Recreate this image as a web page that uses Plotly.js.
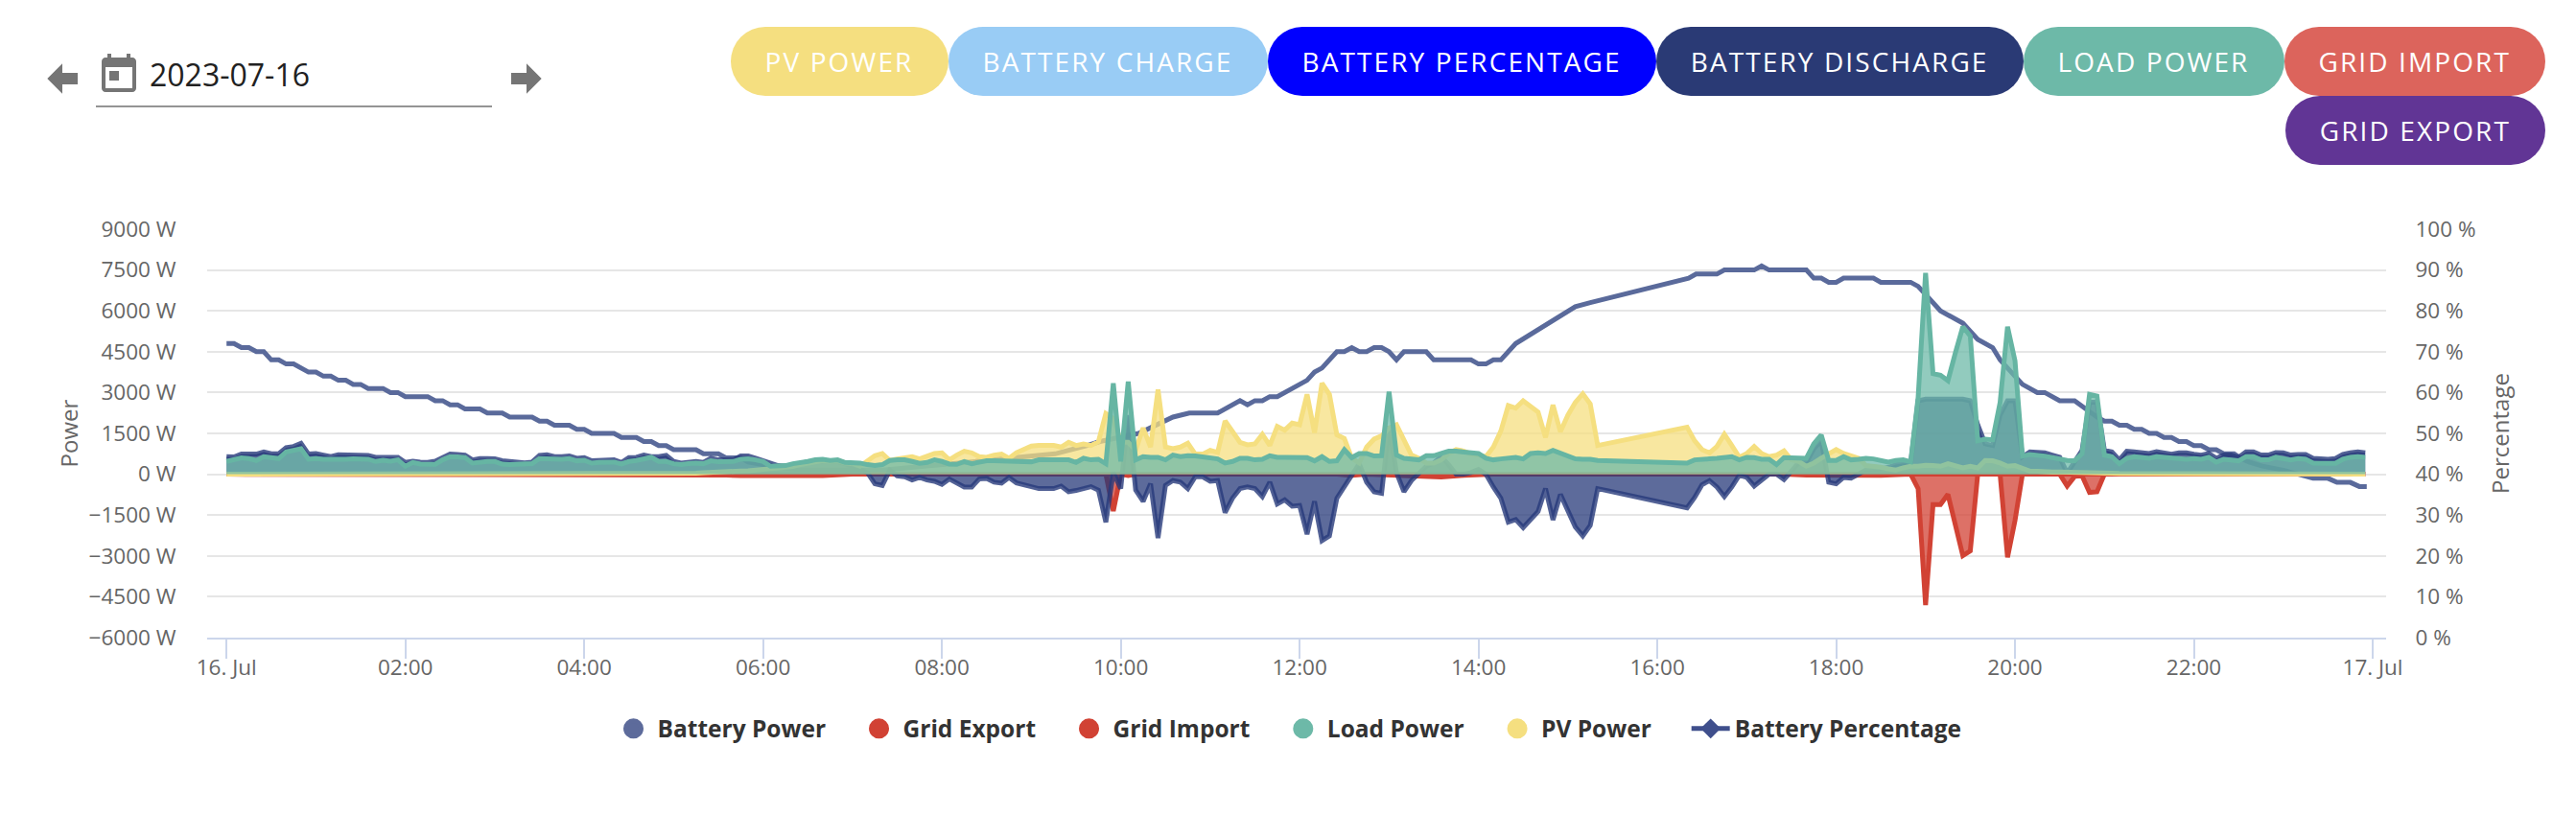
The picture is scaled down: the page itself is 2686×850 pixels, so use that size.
<!DOCTYPE html>
<html>
<head>
<meta charset="utf-8">
<title>Solar day view</title>
<script src="https://cdn.plot.ly/plotly-3.0.1.min.js"></script>
<style>
  html, body { margin: 0; padding: 0; background: #fff; font-family: "Open Sans", sans-serif; overflow: hidden; }
  #plot { position: absolute; left: 0; top: 0; width: 2686px; height: 850px; }
  .icon { position: absolute; width: 48px; height: 48px; fill: #757575; }
  #date { position: absolute; left: 156px; top: 56px; font-size: 32px; line-height: 44px; color: #212121; }
  #dateline { position: absolute; left: 100px; top: 110px; width: 413px; height: 2px; background: #949494; }
  #toggles { position: absolute; left: 700px; right: 32px; top: 28px; display: flex; flex-wrap: wrap; justify-content: flex-end; }
  .toggle { height: 72px; line-height: 72px; padding: 0 36px; border-radius: 36px; color: #fff; font-size: 28px; letter-spacing: 2.1px; white-space: nowrap; }
</style>
</head>
<body>
<div id="plot"></div>
<svg class="icon" style="left:41px;top:58px" viewBox="0 0 24 24"><path d="M20,9V15H12V19.84L4.16,12L12,4.16V9H20Z"/></svg>
<svg class="icon" style="left:100px;top:54px" viewBox="0 0 24 24"><path d="M19 3h-1V1h-2v2H8V1H6v2H5c-1.1 0-2 .9-2 2v14c0 1.1.9 2 2 2h14c1.1 0 2-.9 2-2V5c0-1.1-.9-2-2-2zm0 16H5V8h14v11zM7 10h5v5H7z"/></svg>
<div id="date">2023-07-16</div>
<div id="dateline"></div>
<svg class="icon" style="left:525px;top:58px" viewBox="0 0 24 24"><path d="M4,15V9H12V4.16L19.84,12L12,19.84V15H4Z"/></svg>
<div id="toggles"></div>
<script>
// toggle buttons above the chart
const toggleNames = ["PV POWER", "BATTERY CHARGE", "BATTERY PERCENTAGE", "BATTERY DISCHARGE", "LOAD POWER", "GRID IMPORT", "GRID EXPORT"];
const toggleColors = ["#f5df80", "#99ccf5", "#0000ff", "#2a3a75", "#6db9a8", "#dc645c", "#613595"];

// x axis ticks, in minutes from midnight
const tickMinutes = [0, 120, 240, 360, 480, 600, 720, 840, 960, 1080, 1200, 1320, 1440];
const tickLabels = ["16. Jul", "02:00", "04:00", "06:00", "08:00", "10:00", "12:00", "14:00", "16:00", "18:00", "20:00", "22:00", "17. Jul"];

// inverter logs every 5 minutes, the logger was offline between 15:20 and 16:20
const powerMinutes = [];
for (let m = 0; m < 1440; m += 5) {
  if (m <= 920 || m >= 980) powerMinutes.push(m);
}

// one row per hour, row H15 and H16 are short because of the gap
const batteryPower = [
  645, 633, 739, 727, 739, 821, 751, 751, 974, 1020, 1138, 739,
  762, 704, 645, 716, 716, 727, 692, 692, 622, 622, 622, 622,
  434, 481, 446, 434, 481, 622, 739, 727, 704, 528, 575, 575,
  563, 500, 469, 434, 422, 446, 692, 716, 645, 645, 669, 587,
  610, 493, 516, 528, 528, 434, 610, 622, 704, 645, 645, 692,
  469, 411, 446, 469, 434, 587, 528, 528, 528, 669, 669, 587,
  504, 375, 317, 293, 352, 387, 457, 469, 493, 469, 469, 387,
  293, 176, 59, -352, -411, 150, -59, -94, -211, -117, -211, -258,
  -375, -176, -317, -469, -469, -176, -152, -293, -328, -117, -317, -387,
  -481, -528, -528, -528, -434, -645, -598, -528, -457, -586, -1760, 59,
  -528, 2170, -586, -997, -352, -2346, -410, -234, -293, -528, -94, -94,
  -258, -234, -1408, -880, -528, -469, -528, -821, -293, -1090, -938, -1173,
  -1150, -2205, -997, -2440, -2264, -880, -469, 0, 387, -293, -645, -704,
  1760, 59, -645, -234, 59, 293, 411, 645, 352, 0, 0, 59,
  176, 0, -469, -880, -1760, -1666, -1959, -1642, -1372, -528, -1677, -739,
  -1349, -1935, -2264, -1877, -528,
  -1232, -856, -387, -235, -469, -821, -469, -35,
  -117, -434, -235, 0, 0, -199, 117, 434, 434, 938, 1232, -293,
  -352, -117, -141, 0, 150, 150, 200, 250, 352, 400, 400, 2698,
  2757, 2757, 2757, 2757, 2757, 2757, 2698, 1818, 1114, 1056, 2170, 2698,
  2698, 645, 821, 821, 786, 704, 622, 35, 469, 880, 2640, 2640,
  880, 821, 528, 845, 821, 786, 762, 833, 786, 739, 786, 786,
  739, 704, 762, 586, 704, 704, 622, 821, 821, 704, 704, 798,
  786, 704, 727, 727, 586, 551, 551, 575, 727, 786, 821, 786
];

const loadPower = [
  469, 528, 598, 575, 504, 645, 622, 575, 821, 880, 938, 551,
  575, 551, 540, 551, 551, 563, 540, 551, 469, 516, 481, 528,
  293, 434, 375, 352, 364, 528, 645, 633, 610, 410, 457, 469,
  469, 370, 352, 375, 387, 387, 575, 563, 551, 551, 575, 493,
  516, 410, 434, 446, 446, 375, 469, 504, 575, 622, 469, 469,
  387, 352, 387, 410, 387, 493, 457, 469, 469, 551, 563, 528,
  469, 293, 293, 317, 387, 411, 469, 528, 551, 504, 528, 434,
  434, 411, 352, 317, 352, 504, 528, 528, 469, 399, 434, 528,
  469, 375, 363, 469, 387, 457, 493, 493, 493, 493, 493, 493,
  457, 528, 528, 528, 528, 528, 434, 586, 528, 551, 387, 3343,
  469, 3402, 528, 645, 622, 622, 528, 704, 645, 680, 669, 645,
  586, 563, 411, 469, 586, 586, 528, 551, 680, 622, 622, 622,
  622, 610, 493, 645, 469, 493, 903, 610, 762, 762, 669, 680,
  3026, 704, 586, 563, 528, 680, 680, 762, 845, 845, 821, 762,
  762, 586, 528, 563, 586, 622, 563, 762, 786, 762, 880, 762,
  645, 563, 551, 551, 504,
  411, 528, 563, 563, 586, 622, 645, 528,
  622, 610, 551, 551, 352, 610, 598, 598, 586, 1114, 1443, 504,
  504, 645, 528, 551, 586, 563, 504, 446, 504, 528, 457, 2815,
  7390, 3695, 3636, 3437, 4457, 5419, 5079, 1232, 1290, 1267, 2640, 5419,
  4164, 669, 727, 704, 669, 610, 551, 504, 493, 762, 2933, 2874,
  704, 645, 387, 586, 645, 610, 586, 645, 622, 575, 551, 551,
  575, 551, 622, 446, 551, 528, 493, 645, 645, 528, 528, 622,
  586, 528, 575, 551, 411, 387, 399, 399, 551, 622, 645, 622
];

const pvPower = [
  0, 0, 0, 0, 0, 0, 0, 0, 0, 0, 0, 0,
  0, 0, 0, 0, 0, 0, 0, 0, 0, 0, 0, 0,
  0, 0, 0, 0, 0, 0, 0, 0, 0, 0, 0, 0,
  0, 0, 0, 0, 0, 0, 0, 0, 0, 0, 0, 0,
  0, 0, 0, 0, 0, 0, 0, 0, 0, 0, 0, 0,
  20, 20, 30, 40, 60, 80, 100, 100, 120, 120, 130, 150,
  160, 176, 200, 220, 280, 350, 400, 450, 500, 480, 500, 420,
  400, 293, 469, 680, 762, 504, 563, 586, 645, 563, 645, 762,
  786, 528, 704, 845, 786, 645, 622, 704, 739, 586, 786, 903,
  1032, 1056, 1056, 1056, 997, 1173, 1056, 1114, 1056, 1196, 2229, 2053,
  1173, 1173, 880, 1700, 997, 3108, 997, 938, 997, 1138, 739, 739,
  880, 798, 1959, 1525, 1173, 1079, 1114, 1466, 1056, 1760, 1619, 1877,
  1818, 2933, 1525, 3343, 2933, 1443, 1314, 587, 411, 997, 1290, 1408,
  1700, 1818, 1290, 704, 587, 411, 411, 528, 762, 903, 856, 739,
  704, 645, 997, 1584, 2522, 2428, 2698, 2498, 2287, 1349, 2545, 1560,
  2170, 2640, 2956, 2580, 1056,
  1724, 1232, 903, 786, 1020, 1466, 1056, 622,
  762, 1020, 762, 645, 704, 856, 528, 469, 293, 410, 587, 762,
  903, 762, 669, 587, 317, 293, 258, 199, 152, 235, 293, 293,
  328, 317, 293, 387, 317, 235, 293, 235, 504, 493, 410, 293,
  317, 199, 117, 105, 82, 82, 82, 82, 82, 59, 59, 59,
  40, 40, 30, 30, 20, 20, 0, 0, 0, 0, 0, 0,
  0, 0, 0, 0, 0, 0, 0, 0, 0, 0, 0, 0,
  0, 0, 0, 0, 0, 0, 0, 0, 0, 0, 0, 0
];

// grid only moves now and then so these keep their own times
const gridImportMinutes = [0, 10, 15, 20, 25, 30, 35, 100, 105, 110, 150, 155, 160, 170, 175, 180, 275, 280, 285, 290, 295, 300, 305, 335, 345, 360, 385, 400, 420, 590, 595, 600, 605, 610, 745, 755, 765, 800, 815, 830, 850, 1045, 1060, 1110, 1130, 1135, 1140, 1145, 1150, 1155, 1160, 1165, 1170, 1175, 1190, 1195, 1200, 1205, 1230, 1235, 1240, 1245, 1250, 1255, 1260, 1275, 1280, 1285, 1340, 1345, 1350, 1435];
const gridImport = [0, 0, -30, 0, 0, -30, 0, 0, -30, 0, 0, -30, 0, 0, -30, 0, 0, -40, 0, -40, 0, -40, 0, -30, -50, -50, -60, -50, 0, 0, -1349, 0, -50, 0, 0, -40, 0, -40, -100, -40, 0, 0, -30, -40, 0, -528, -4809, -1114, -1114, -739, -1818, -2991, -2815, 0, 0, -3050, -1700, 0, 0, -434, -80, -60, -669, -645, 0, 0, -30, 0, 0, -30, 0, 0];
const gridExportMinutes = [0, 1435];
const gridExport = [0, 0];

// state of charge, the inverter reports whole percents
const percentMinutes = [0, 5, 10, 15, 20, 25, 30, 35, 40, 45, 55, 60, 65, 70, 75, 80, 85, 90, 95, 105, 110, 115, 120, 135, 140, 145, 150, 155, 160, 170, 175, 185, 190, 205, 210, 215, 220, 230, 235, 240, 245, 260, 265, 275, 280, 285, 290, 295, 300, 315, 320, 330, 335, 345, 350, 365, 385, 440, 470, 500, 525, 556, 577, 586, 612, 618, 629, 635, 646, 665, 680, 685, 690, 695, 700, 705, 725, 730, 735, 745, 750, 755, 760, 765, 770, 775, 780, 785, 790, 805, 810, 835, 840, 845, 850, 855, 865, 905, 915, 981, 986, 1000, 1005, 1025, 1030, 1035, 1060, 1065, 1070, 1075, 1080, 1085, 1105, 1110, 1130, 1135, 1140, 1145, 1150, 1165, 1175, 1185, 1190, 1200, 1205, 1215, 1220, 1230, 1240, 1255, 1260, 1265, 1270, 1275, 1280, 1285, 1290, 1295, 1300, 1305, 1310, 1315, 1320, 1325, 1330, 1335, 1340, 1347, 1351, 1357, 1366, 1380, 1390, 1400, 1410, 1416, 1425, 1431, 1436];
const batteryPercentage = [72, 72, 71, 71, 70, 70, 68, 68, 67, 67, 65, 65, 64, 64, 63, 63, 62, 62, 61, 61, 60, 60, 59, 59, 58, 58, 57, 57, 56, 56, 55, 55, 54, 54, 53, 53, 52, 52, 51, 51, 50, 50, 49, 49, 48, 48, 47, 47, 46, 46, 45, 45, 44, 44, 43, 42, 41, 41, 42, 43, 44, 45, 47, 48, 50, 51, 53, 54, 55, 55, 58, 57, 58, 58, 59, 59, 63, 65, 66, 70, 70, 71, 70, 70, 71, 71, 70, 68, 70, 70, 68, 68, 67, 67, 68, 68, 72, 81, 82, 88, 89, 89, 90, 90, 91, 90, 90, 88, 88, 87, 87, 88, 88, 87, 87, 86, 84, 82, 80, 77, 73, 71, 68, 64, 62, 60, 60, 58, 58, 54, 53, 53, 52, 52, 51, 51, 50, 50, 49, 49, 48, 48, 47, 47, 46, 46, 45, 45, 44, 43, 42, 41, 40, 39, 39, 38, 38, 37, 37];

const seriesNames = ["Battery Power", "Grid Export", "Grid Import", "Load Power", "PV Power", "Battery Percentage"];
const seriesColors = ["#5d6b9b", "#d14234", "#d14234", "#6db9a8", "#f5df80", "#3f4f8c"];
// no-break spaces after each legend name, they widen the gap to the next entry
const legendPadding = [4, 4, 4, 4, 5, 0];

// buttons
const toggles = document.querySelector("#toggles");
toggleNames.forEach((name, i) => {
  const button = document.createElement("div");
  button.className = "toggle";
  button.style.background = toggleColors[i];
  button.textContent = name;
  toggles.appendChild(button);
});

function toStamp(minute) {
  return new Date(Date.UTC(2023, 6, 16, 0, minute)).toISOString().slice(0, 19);
}

// area trace, fill and outline are the same colour with different alpha
function areaTrace(minutes, values, name, lineColor, fillColor) {
  return {
    x: minutes.map(toStamp),
    y: values,
    yaxis: "y2",
    name: name,
    legendgroup: name,
    showlegend: false,
    mode: "lines",
    fill: "tozeroy",
    fillcolor: fillColor,
    line: { color: lineColor, width: 5 },
    hoverinfo: "x+y+name",
  };
}

// percent goes first so the filled areas end up above it
const percentTrace = {
  x: percentMinutes.map(toStamp),
  y: batteryPercentage,
  yaxis: "y",
  name: seriesNames[5],
  legendgroup: seriesNames[5],
  showlegend: false,
  mode: "lines",
  line: { color: "#5a6a9b", width: 5 },
};

const traces = [
  percentTrace,
  areaTrace(gridExportMinutes, gridExport, seriesNames[1], "#d14234", "rgba(209,66,52,0.75)"),
  areaTrace(gridImportMinutes, gridImport, seriesNames[2], "#d14234", "rgba(209,66,52,0.75)"),
  areaTrace(powerMinutes, batteryPower, seriesNames[0], "rgba(39,58,122,0.8)", "rgba(39,58,122,0.75)"),
  areaTrace(powerMinutes, pvPower, seriesNames[4], "#f5df80", "rgba(245,223,128,0.75)"),
  areaTrace(powerMinutes, loadPower, seriesNames[3], "#66b5a3", "rgba(109,185,168,0.75)"),
];

// empty traces only for the legend, areas would get a swatch instead of a dot
seriesNames.forEach((name, i) => {
  const isLine = i === 5;
  traces.push({
    x: [null],
    y: [null],
    yaxis: isLine ? "y" : "y2",
    name: name + "\u00a0".repeat(legendPadding[i]),
    legendgroup: name,
    mode: isLine ? "lines+markers" : "markers",
    line: { color: seriesColors[i], width: 5 },
    marker: {
      color: seriesColors[i],
      symbol: isLine ? "diamond" : "circle",
      size: 16,
      line: { color: seriesColors[i], width: isLine ? 0 : 5 },
    },
  });
});

const tickFont = { family: "Open Sans", size: 22.5, color: "#666666" };
const titleFont = { family: "Open Sans", size: 24, color: "#666666" };

Plotly.newPlot(
  "plot",
  traces,
  {
    width: 2686,
    height: 850,
    margin: { l: 216, r: 198, t: 239, b: 185, pad: 0 },
    paper_bgcolor: "rgba(0,0,0,0)",
    plot_bgcolor: "rgba(0,0,0,0)",
    font: { family: "Open Sans" },
    hovermode: "x",
    xaxis: {
      type: "date",
      range: [toStamp(-13.3), toStamp(1449.9)],
      tickmode: "array",
      tickvals: tickMinutes.map(toStamp),
      ticktext: tickLabels,
      tickfont: tickFont,
      ticks: "outside",
      ticklen: 20,
      tickwidth: 2,
      tickcolor: "#ccd6eb",
      ticklabelstandoff: -10,
      showline: true,
      linecolor: "#ccd6eb",
      linewidth: 2,
      showgrid: false,
      zeroline: false,
    },
    yaxis: {
      side: "right",
      range: [0, 100],
      dtick: 10,
      ticksuffix: " %",
      tickfont: tickFont,
      ticks: "outside",
      ticklen: 25,
      tickcolor: "rgba(0,0,0,0)",
      showgrid: true,
      gridcolor: "#e6e6e6",
      gridwidth: 2,
      zeroline: false,
      title: { text: "Percentage", font: titleFont, standoff: 18 },
    },
    yaxis2: {
      side: "left",
      overlaying: "y",
      range: [-6000, 9000],
      dtick: 1500,
      ticksuffix: " W",
      tickfont: tickFont,
      ticks: "outside",
      ticklen: 27,
      tickcolor: "rgba(0,0,0,0)",
      showgrid: false,
      zeroline: false,
      title: { text: "Power", font: titleFont, standoff: 4 },
    },
    legend: {
      orientation: "h",
      xref: "container",
      yref: "container",
      x: 0.5,
      xanchor: "center",
      y: 0.106,
      yanchor: "middle",
      font: { family: "Open Sans", size: 24.5, color: "#333333", weight: 700 },
      itemwidth: 40,
      itemclick: false,
      itemdoubleclick: false,
    },
  },
  { displayModeBar: false }
);
</script>
</body>
</html>
